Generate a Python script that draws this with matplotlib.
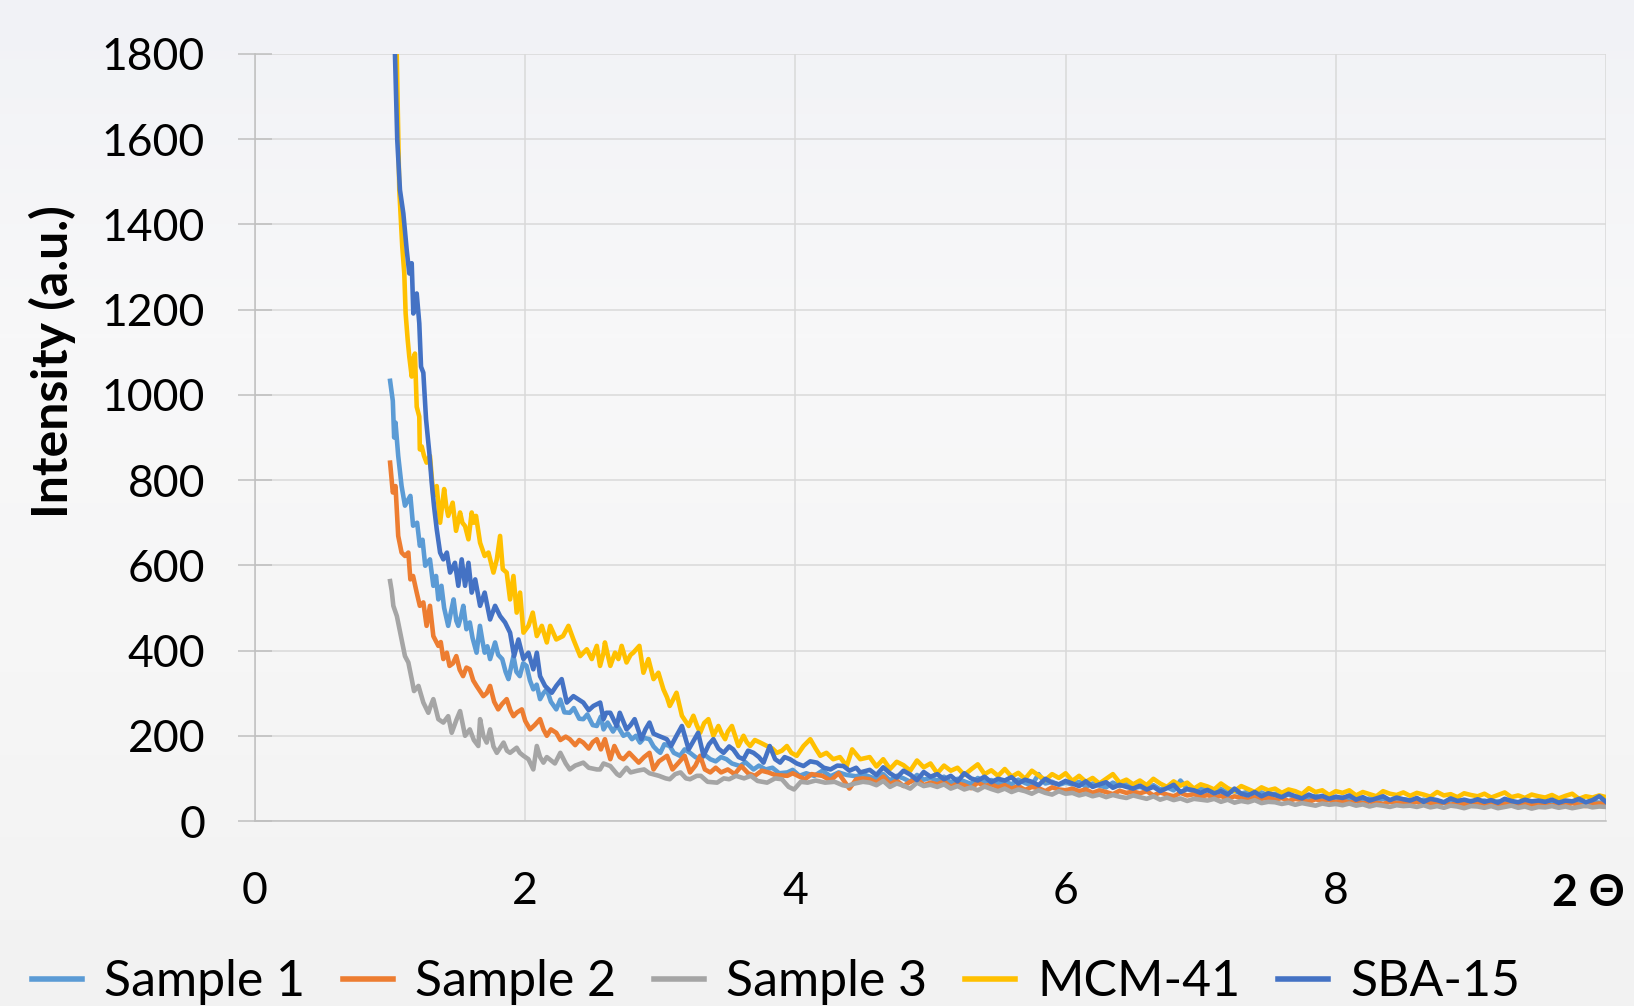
import numpy as np
import matplotlib
matplotlib.use("Agg")
import matplotlib.pyplot as plt
from matplotlib.colors import LinearSegmentedColormap

plt.rcParams['font.family'] = ['Lato', 'DejaVu Sans']

# ---------------- data (2 theta, intensity a.u.) ----------------
series_names = ["Sample 1", "Sample 2", "Sample 3", "MCM-41", "SBA-15"]
series_colors = ["#5B9BD5", "#ED7D31", "#A5A5A5", "#FFC000", "#4472C4"]

x_ticks = [0, 2, 4, 6, 8, 10]
x_tick_labels = ["0", "2", "4", "6", "8", ""]
y_ticks = [0, 200, 400, 600, 800, 1000, 1200, 1400, 1600, 1800]

# low-angle part (read point by point)
s1_head = [(1.00,1033),(1.02,986),(1.03,900),(1.04,935),(1.06,857),(1.085,786),(1.11,740),(1.13,752),
           (1.15,763),(1.17,693),(1.20,700),(1.22,646),(1.24,660),(1.26,599),(1.295,614),(1.32,552),
           (1.34,575),(1.357,520),(1.38,552),(1.40,500),(1.43,458),(1.45,490),(1.47,520),(1.49,470),
           (1.505,458),(1.525,480),(1.542,505),(1.565,450),(1.59,466),(1.61,430),(1.64,395),(1.665,458),
           (1.685,420),(1.70,395),(1.72,410),(1.74,380),(1.777,419),(1.80,390),(1.83,380),(1.855,350),
           (1.876,333),(1.913,387),(1.935,350),(1.96,340),(1.985,370),(2.01,364),(2.035,330),(2.06,309),
           (2.085,320),(2.11,286),(2.135,300),(2.16,309),(2.19,280),(2.23,262),(2.26,285),(2.29,255),
           (2.33,254),(2.36,265),(2.40,240),(2.43,239),(2.46,250),(2.50,225),(2.53,223),(2.56,245),
           (2.58,215),(2.61,231),(2.65,210),(2.68,225),(2.727,200),(2.76,205),(2.79,192),(2.82,200),
           (2.85,184),(2.88,195),(2.92,192),(2.95,175),(2.98,165),(3.00,160),(3.03,180),(3.07,176),
           (3.10,160),(3.146,153),(3.18,168),(3.22,160),(3.26,150),(3.295,145),(3.33,155),(3.37,145),
           (3.41,140),(3.45,150),(3.49,145),(3.53,135),(3.59,129),(3.63,138),(3.69,121),(3.73,130),
           (3.78,121),(3.83,125),(3.88,112),(3.94,114),(3.98,120),(4.03,106),(4.08,112),(4.14,106),
           (4.20,118),(4.26,105),(4.32,114),(4.38,108),(4.45,105),(4.50,110)]

s2_head = [(1.00,841),(1.015,790),(1.02,771),(1.04,786),(1.06,669),(1.085,630),(1.11,622),(1.135,630),
           (1.15,567),(1.17,575),(1.197,536),(1.22,505),(1.246,513),(1.27,458),(1.295,505),(1.32,434),
           (1.357,411),(1.375,420),(1.394,380),(1.42,395),(1.44,364),(1.465,370),(1.49,387),(1.515,355),
           (1.54,340),(1.565,360),(1.59,356),(1.615,330),(1.64,317),(1.665,305),(1.69,293),(1.715,300),
           (1.74,317),(1.77,280),(1.80,262),(1.83,275),(1.863,286),(1.89,260),(1.913,246),(1.94,255),
           (1.975,262),(2.00,235),(2.036,215),(2.07,225),(2.11,239),(2.135,215),(2.16,200),(2.19,215),
           (2.23,207),(2.26,190),(2.30,198),(2.33,192),(2.37,178),(2.40,190),(2.43,184),(2.47,170),
           (2.50,185),(2.53,192),(2.56,168),(2.59,192),(2.63,145),(2.66,176),(2.70,150),(2.727,145),
           (2.77,160),(2.80,150),(2.84,137),(2.88,150),(2.92,160),(2.95,121),(2.99,140),(3.05,153),
           (3.09,121),(3.13,135),(3.18,153),(3.22,114),(3.26,130),(3.295,153),(3.33,121),(3.37,114),
           (3.41,125),(3.45,114),(3.50,121),(3.55,110),(3.60,129),(3.65,112),(3.70,106),(3.75,118),
           (3.80,114),(3.85,108),(3.94,106),(3.98,112),(4.07,98),(4.12,110),(4.20,106),(4.26,95),
           (4.32,112),(4.40,76),(4.45,98),(4.50,100)]

s3_head = [(1.00,563),(1.012,540),(1.024,505),(1.05,481),(1.07,450),(1.085,426),(1.11,387),(1.135,372),
           (1.16,333),(1.177,305),(1.21,317),(1.246,278),(1.283,254),(1.30,270),(1.32,286),(1.357,239),
           (1.394,231),(1.43,246),(1.456,207),(1.493,239),(1.518,258),(1.555,200),(1.59,215),(1.62,190),
           (1.653,176),(1.666,239),(1.69,200),(1.715,184),(1.74,215),(1.765,175),(1.79,160),(1.84,184),
           (1.865,165),(1.888,160),(1.937,172),(1.96,160),(1.987,153),(2.024,145),(2.06,121),(2.086,176),
           (2.11,150),(2.135,137),(2.16,150),(2.18,145),(2.22,135),(2.26,160),(2.30,135),(2.33,121),
           (2.37,130),(2.43,137),(2.47,125),(2.53,121),(2.554,121),(2.58,135),(2.63,129),(2.68,110),
           (2.70,106),(2.75,125),(2.78,114),(2.83,118),(2.88,121),(2.92,112),(2.99,106),(3.04,100),
           (3.07,98),(3.11,110),(3.15,114),(3.19,100),(3.22,98),(3.27,106),(3.30,106),(3.35,92),
           (3.42,90),(3.47,100),(3.51,98),(3.56,106),(3.62,100),(3.67,106),(3.72,94),(3.79,90),
           (3.85,100),(3.90,98),(3.95,80),(3.99,74),(4.04,92),(4.09,90),(4.15,95),(4.22,90),
           (4.29,92),(4.35,84),(4.38,82),(4.44,88),(4.50,92)]

mcm_head = [(1.00,2400),(1.03,2000),(1.049,1800),(1.068,1481),(1.09,1348),(1.105,1285),(1.115,1191),
            (1.13,1130),(1.142,1090),(1.16,1043),(1.172,1084),(1.184,1097),(1.197,972),(1.216,949),
            (1.22,872),(1.234,879),(1.251,857),(1.27,841),(1.295,857),(1.32,763),(1.345,786),(1.37,700),
            (1.40,779),(1.415,740),(1.43,716),(1.463,747),(1.488,681),(1.518,724),(1.535,700),(1.555,692),
            (1.58,661),(1.604,724),(1.62,700),(1.636,716),(1.666,653),(1.70,622),(1.728,630),(1.765,583),
            (1.79,614),(1.814,669),(1.834,591),(1.863,583),(1.888,520),(1.913,575),(1.937,489),(1.962,536),
            (1.987,442),(2.024,458),(2.056,489),(2.086,434),(2.123,458),(2.16,419),(2.185,458),(2.23,426),
            (2.28,434),(2.32,458),(2.357,426),(2.407,387),(2.456,403),(2.493,380),(2.53,411),(2.554,364),
            (2.58,395),(2.59,419),(2.63,364),(2.665,395),(2.69,380),(2.714,411),(2.75,372),(2.78,390),
            (2.80,395),(2.845,411),(2.875,348),(2.912,380),(2.95,333),(2.986,348),(3.023,309),(3.05,290),
            (3.07,270),(3.095,285),(3.12,301),(3.16,247),(3.21,223),(3.245,247),(3.27,225),(3.295,207),
            (3.325,230),(3.356,239),(3.393,200),(3.43,223),(3.455,205),(3.48,192),(3.50,210),(3.53,223),
            (3.578,176),(3.616,200),(3.64,185),(3.665,176),(3.70,190),(3.74,184),(3.79,176),(3.83,170),
            (3.863,160),(3.90,165),(3.937,176),(3.97,160),(4.01,153),(4.06,176),(4.11,192),(4.15,170),
            (4.184,153),(4.23,160),(4.28,145),(4.33,150),(4.38,129),(4.42,168),(4.48,145)]

sba_head = [(1.00,2350),(1.02,1950),(1.036,1800),(1.053,1598),(1.073,1481),(1.098,1426),(1.123,1340),
            (1.142,1285),(1.16,1309),(1.172,1191),(1.197,1238),(1.216,1168),(1.229,1066),(1.246,1052),
            (1.266,943),(1.29,865),(1.308,794),(1.325,739),(1.345,685),(1.37,630),(1.394,614),(1.42,630),
            (1.444,583),(1.48,606),(1.505,552),(1.53,614),(1.555,552),(1.58,606),(1.604,536),(1.63,567),
            (1.666,505),(1.70,536),(1.74,473),(1.777,505),(1.814,481),(1.851,466),(1.888,442),(1.918,387),
            (1.95,426),(1.987,380),(2.024,395),(2.06,356),(2.086,395),(2.11,340),(2.147,317),(2.197,301),
            (2.23,317),(2.27,333),(2.308,278),(2.357,293),(2.43,278),(2.47,260),(2.505,270),(2.555,278),
            (2.58,239),(2.60,254),(2.63,254),(2.677,223),(2.70,254),(2.75,215),(2.78,225),(2.81,239),
            (2.86,192),(2.89,215),(2.92,231),(2.95,205),(2.986,200),(3.048,192),(3.08,176),(3.12,200),
            (3.16,223),(3.21,168),(3.25,190),(3.28,207),(3.32,153),(3.36,180),(3.393,192),(3.43,170),
            (3.468,160),(3.51,175),(3.54,168),(3.58,150),(3.616,145),(3.65,165),(3.69,160),(3.73,150),
            (3.764,137),(3.81,176),(3.85,145),(3.887,137),(3.92,150),(3.96,145),(4.01,135),(4.06,129),
            (4.11,140),(4.16,137),(4.21,125),(4.26,121),(4.31,130),(4.356,129),(4.40,118),(4.45,125),
            (4.48,114)]

# high-angle part: readings every 0.05 deg from 4.55 to 10.00
tail_x = np.round(4.55 + 0.05 * np.arange(110), 2)

s1_tail = [104, 98,110, 95,106,100, 92,108, 97,101,
            95,104, 90, 99, 93, 87,101, 92, 96, 88,
            93, 86, 97, 89, 84,110, 88, 92, 85, 90,
            86, 92, 80, 88, 83, 79, 90, 82, 86, 78,
            80, 76, 84, 74, 79, 72, 95, 75, 70, 77,
            72, 68, 75, 66, 71, 64, 69, 62, 67, 60,
            64, 58, 62, 56, 60, 54, 59, 53, 57, 52,
            55, 50, 54, 48, 53, 47, 52, 49, 46, 51,
            48, 45, 50, 44, 47, 43, 49, 45, 42, 47,
            44, 48, 42, 46, 41, 45, 43, 47, 42, 44,
            46, 42, 45, 40, 44, 47, 41, 45, 43, 44]

s2_tail = [ 98, 90,104, 86, 95, 82, 92, 99, 84, 90,
            86, 93, 80, 88, 84, 77, 90, 82, 86, 79,
            84, 76, 82, 73, 80, 77, 70, 79, 74, 72,
            76, 70, 74, 66, 72, 68, 63, 71, 66, 69,
            65, 70, 60, 67, 62, 58, 66, 60, 63, 57,
            61, 55, 59, 52, 58, 54, 50, 56, 52, 55,
            50, 54, 47, 52, 49, 45, 51, 47, 49, 44,
            48, 43, 47, 41, 46, 43, 40, 45, 42, 44,
            41, 45, 39, 43, 40, 44, 38, 42, 40, 37,
            42, 38, 41, 36, 40, 43, 37, 40, 38, 41,
            39, 36, 40, 37, 42, 38, 35, 39, 41, 40]

s3_tail = [ 90, 84, 94, 80, 88, 83, 76, 90, 82, 85,
            80, 86, 76, 82, 74, 79, 72, 81, 75, 70,
            76, 68, 74, 70, 64, 72, 66, 62, 70, 64,
            66, 60, 64, 58, 62, 56, 61, 57, 54, 60,
            56, 52, 58, 50, 55, 49, 53, 47, 52, 50,
            48, 52, 45, 50, 43, 47, 44, 49, 42, 45,
            44, 40, 43, 38, 42, 39, 36, 41, 38, 40,
            37, 41, 36, 39, 34, 38, 36, 33, 37, 35,
            36, 33, 37, 32, 35, 31, 36, 34, 30, 35,
            34, 31, 35, 30, 33, 36, 31, 34, 29, 33,
            32, 35, 31, 34, 30, 33, 36, 32, 34, 33]

mcm_tail = [150,128,145,122,139,131,118,142,126,135,
            112,130,118,125,108,121,133,110,119,106,
            122,104,113, 99,118,107, 96,110,101,112,
             94,106, 92,101, 88, 99,110, 90, 97, 86,
             95, 84, 99, 88, 80, 93, 83, 90, 76, 86,
             81, 74, 88, 77, 70, 82, 75, 68, 79, 72,
             76, 66, 74, 70, 63, 77, 68, 72, 61, 70,
             66, 72, 60, 68, 63, 58, 70, 64, 61, 67,
             59, 66, 62, 57, 68, 60, 63, 56, 65, 61,
             58, 64, 55, 61, 67, 56, 60, 54, 62, 58,
             55, 61, 53, 59, 64, 52, 58, 55, 60, 56]

sba_tail = [120,108,126,112,102,118,109, 96,115,104,
            110, 98,106, 93,112,100, 95,104, 91, 99,
             95,103, 88, 97, 92, 84, 99, 90, 86, 94,
             88, 82, 93, 80, 86, 91, 78, 85, 80, 76,
             83, 74, 80, 70, 77, 85, 68, 75, 72, 66,
             73, 65, 70, 62, 76, 64, 60, 68, 58, 65,
             61, 56, 64, 58, 53, 62, 55, 59, 52, 57,
             54, 60, 50, 56, 48, 53, 58, 49, 55, 51,
             48, 54, 45, 52, 49, 44, 53, 47, 50, 46,
             51, 45, 49, 43, 52, 47, 44, 50, 46, 48,
             45, 50, 43, 48, 46, 52, 44, 49, 58, 45]

heads = [s1_head, s2_head, s3_head, mcm_head, sba_head]
tails = [s1_tail, s2_tail, s3_tail, mcm_tail, sba_tail]

# ---------------- figure ----------------
W, H = 1634, 1006
fig = plt.figure(figsize=(W / 100, H / 100), dpi=100)

bg = fig.add_axes([0, 0, 1, 1], zorder=-10)
grad = np.linspace(0, 1, 256).reshape(-1, 1)
cmap = LinearSegmentedColormap.from_list("bg", ["#f2f2f2", "#f6f6f6", "#f8f8f9", "#f1f2f6"])
bg.imshow(grad, aspect="auto", cmap=cmap, extent=[0, 1, 0, 1], origin="lower")
bg.axis("off")

ax = fig.add_axes([255 / W, 1 - 821 / H, 1351 / W, 767 / H])
ax.set_facecolor("none")

for name, color, head, tail in zip(series_names, series_colors, heads, tails):
    hx, hy = zip(*head)
    x = np.concatenate([np.array(hx), tail_x])
    y = np.concatenate([np.array(hy), np.array(tail)])
    ax.plot(x, y, color=color, lw=3.3, label=name, solid_joinstyle="round")

ax.set_xlim(0, 10)
ax.set_ylim(0, 1800)
ax.set_xticks(x_ticks)
ax.set_xticklabels(x_tick_labels)
ax.set_yticks(y_ticks)
ax.grid(True, color="#d9d9d9", lw=1.1)
ax.set_axisbelow(True)
for s in ["top", "right"]:
    ax.spines[s].set_visible(False)
for s in ["left", "bottom"]:
    ax.spines[s].set_color("#bfbfbf")
    ax.spines[s].set_linewidth(1.1)

ax.tick_params(axis="y", direction="inout", length=24, width=1.1, color="#bfbfbf",
               labelsize=32, pad=24, labelcolor="black")
ax.tick_params(axis="x", length=0, labelsize=32, pad=36, labelcolor="black")

fig.text(52 / W, 1 - 362 / H, "Intensity (a.u.)", rotation=90, ha="center", va="center",
         fontsize=36, fontweight="bold")
fig.text(1588 / W, 1 - 893 / H, "2 Θ", ha="center", va="center", fontsize=32, fontweight="bold")

leg = ax.legend(loc="center", bbox_to_anchor=(776 / W, 1 - 982 / H), bbox_transform=fig.transFigure,
                ncol=5, frameon=False, fontsize=36, handlelength=1.0, handletextpad=0.45,
                columnspacing=0.75, borderaxespad=0, borderpad=0)
for h in leg.get_lines():
    h.set_linewidth(4.0)

fig.savefig("out.png", dpi=100)
